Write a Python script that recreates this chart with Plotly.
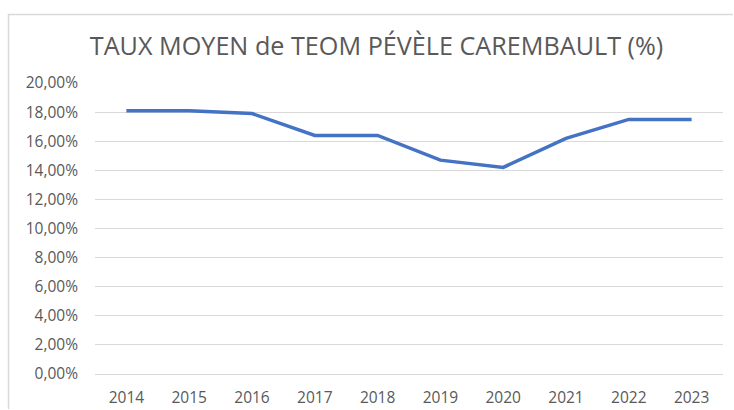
import plotly.graph_objects as go

years = ["2014", "2015", "2016", "2017", "2018", "2019", "2020", "2021", "2022", "2023"]
taux = [18.1, 18.1, 17.9, 16.4, 16.4, 14.7, 14.2, 16.2, 17.5, 17.5]
y_ticks = [0, 2, 4, 6, 8, 10, 12, 14, 16, 18, 20]
y_tick_labels = [f"{v:.2f}%".replace(".", ",") for v in y_ticks]
title_text = "TAUX MOYEN de TEOM PÉVÈLE CAREMBAULT (%)"

FONT = "Open Sans"
GRAY = "#595959"
GRID = "#d9d9d9"

fig = go.Figure()
fig.add_trace(go.Scatter(
    x=years, y=taux, mode="lines",
    line=dict(color="#4472C4", width=3.5),
    hoverinfo="x+y",
))

# chart-area frame (left and top edges visible; right/bottom run off the image)
xl, xr = (8.5 - 95) / 628, (733 - 95) / 628
yt, yb = (374 - 14.5) / 291, (374 - 409) / 291
frame_path = f"M {xl},{yb} L {xl},{yt} L {xr},{yt}"

fig.update_layout(
    width=734, height=410,
    margin=dict(l=95, r=11, t=83, b=36),
    paper_bgcolor="white", plot_bgcolor="white",
    showlegend=False,
    font=dict(family=FONT, color=GRAY, size=15),
    title=dict(text=title_text, x=0.513, xanchor="center", y=0.888, yanchor="middle",
               font=dict(family=FONT, size=25.2, color=GRAY)),
    xaxis=dict(type="category", range=[-0.5, 9.5], showgrid=False, showline=False,
               zeroline=False, ticks="", ticklabelstandoff=12, automargin=False,
               tickfont=dict(size=15.5, color=GRAY)),
    yaxis=dict(range=[0, 20], tickmode="array", tickvals=y_ticks, ticktext=y_tick_labels,
               showgrid=True, gridcolor=GRID, gridwidth=1, zeroline=True, zerolinecolor=GRID,
               zerolinewidth=1, showline=False, ticks="", ticklabelstandoff=16, automargin=False,
               tickfont=dict(size=15.5, color=GRAY)),
    shapes=[dict(type="path", xref="paper", yref="paper", path=frame_path,
                 line=dict(color="#d9d9d9", width=1.5), layer="below")],
)

post = "document.body.style.margin='0';document.body.style.overflow='hidden';"
fig.write_html("out.html", config={"displayModeBar": False}, post_script=post)
